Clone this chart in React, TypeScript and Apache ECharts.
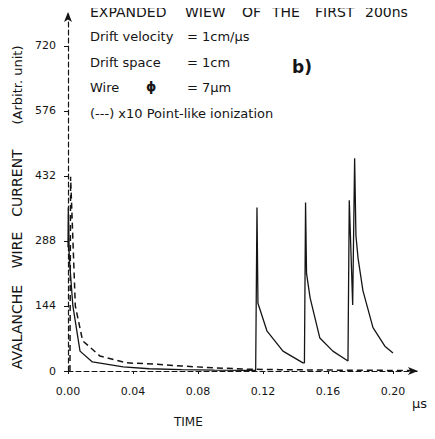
import React, { useEffect, useRef } from "react";
import * as echarts from "echarts";

const solidTime = [0, 0.0002, 0.0008, 0.003, 0.0074, 0.015, 0.034, 0.05, 0.07, 0.09, 0.11, 0.1155, 0.1163, 0.1169, 0.1224, 0.1323, 0.1446, 0.1455, 0.1462, 0.1468, 0.149, 0.155, 0.163, 0.1723, 0.1731, 0.1752, 0.1764, 0.1772, 0.1785, 0.1815, 0.1877, 0.195, 0.2];
const solidCurrent = [274, 362, 250, 144, 44, 20, 9, 5, 3, 2, 1.5, 1.5, 362, 150, 89, 44, 18, 18, 373, 216, 162, 73, 44, 22, 378, 146, 471, 300, 250, 178, 96, 55, 40];

const pointTime = [0.0012, 0.0016, 0.0045, 0.0055, 0.009, 0.0197, 0.0363, 0.055, 0.07, 0.09, 0.11, 0.13, 0.16, 0.19, 0.214];
const pointCurrent = [0, 430, 144, 127, 67, 33, 18, 15, 11, 7, 4, 3, 2, 1.5, 1];

const yTicks = [0, 144, 288, 432, 576, 720];
const xTicks = ["0.00", "0.04", "0.08", "0.12", "0.16", "0.20"];

const titleWords = ["EXPANDED", "WIEW", "OF", "THE", "FIRST", "200ns"];
const titleLeft = [90, 185, 242, 272, 315, 365];

const yNameWords = ["AVALANCHE", "WIRE", "CURRENT", "(Arbitr. unit)"];
const yNameCenter = [327, 250, 183, 85];

const infoLabels = ["Drift velocity", "Drift space", "Wire", "(---) x10 Point-like ionization"];
const infoValues = ["= 1cm/μs", "= 1cm", "= 7μm", ""];

export default function App() {
  const ref = useRef<HTMLDivElement>(null);
  useEffect(() => {
    if (!ref.current) return;
    const chart = echarts.init(ref.current, null, { renderer: "svg" });
    const font = "DejaVu Sans";
    const ink = "#151515";
    const g: any[] = [];
    titleWords.forEach((w, i) => {
      g.push({ type: "text", left: titleLeft[i], top: 5, style: { text: w, font: `14px "${font}"`, fill: ink } });
    });
    infoLabels.forEach((l, i) => {
      g.push({ type: "text", left: 90, top: 30 + i * 25.5, style: { text: l, font: `13px "${font}"`, fill: ink } });
      if (infoValues[i]) {
        g.push({ type: "text", left: 187, top: 30 + i * 25.5, style: { text: infoValues[i], font: `13px "${font}"`, fill: ink } });
      }
    });
    g.push({ type: "text", left: 146, top: 80, style: { text: "ϕ", font: `bold 13px "${font}"`, fill: ink } });
    yNameWords.forEach((w, i) => {
      g.push({
        type: "text",
        x: 17,
        y: yNameCenter[i],
        rotation: Math.PI / 2,
        style: { text: w, font: `${i < 3 ? 14 : 13}px "${font}"`, fill: ink, align: "center", verticalAlign: "middle" },
      });
    });
    g.push({ type: "text", left: 292, top: 58, style: { text: "b)", font: `bold 17px "${font}"`, fill: ink } });
    g.push({ type: "text", left: 174, top: 416, style: { text: "TIME", font: `12px "${font}"`, fill: ink } });
    g.push({ type: "text", left: 412, top: 397, style: { text: "μs", font: `13px "${font}"`, fill: ink } });

    chart.setOption({
      animation: false,
      backgroundColor: "#ffffff",
      grid: { left: 68, right: 17, top: 12, bottom: 68 },
      xAxis: {
        type: "value",
        min: 0,
        max: 0.2154,
        interval: 0.04,
        splitLine: { show: false },
        axisLine: { lineStyle: { color: ink, width: 1.2, type: [5, 3] }, symbol: ["none", "arrow"], symbolSize: [6, 10] },
        axisTick: { length: 3, lineStyle: { color: ink } },
        axisLabel: {
          showMaxLabel: false,
          margin: 15,
          color: ink,
          fontFamily: font,
          fontSize: 11,
          formatter: (v: number) => {
            const idx = Math.round(v / 0.04);
            return Math.abs(v - idx * 0.04) < 1e-6 ? xTicks[idx] ?? "" : "";
          },
        },
      },
      yAxis: {
        type: "value",
        min: 0,
        max: 795,
        interval: 144,
        splitLine: { show: false },
        axisLine: { lineStyle: { color: ink, width: 1.2, type: [5, 3] }, symbol: ["none", "arrow"], symbolSize: [6, 10] },
        axisTick: { length: 4, lineStyle: { color: ink } },
        axisLabel: {
          showMaxLabel: false,
          margin: 12,
          color: ink,
          fontFamily: font,
          fontSize: 11,
          formatter: (v: number) => (yTicks.includes(v) ? String(v) : ""),
        },
      },
      graphic: g,
      series: [
        {
          type: "line",
          data: solidTime.map((t, i) => [t, solidCurrent[i]]),
          showSymbol: false,
          lineStyle: { color: ink, width: 1.3 },
        },
        {
          type: "line",
          data: pointTime.map((t, i) => [t, pointCurrent[i]]),
          showSymbol: false,
          lineStyle: { color: ink, width: 1.5, type: [6, 4] },
        },
      ],
    });
    return () => chart.dispose();
  }, []);
  return <div ref={ref} style={{ width: 435, height: 439, marginLeft: -8, marginTop: -8 }} />;
}
